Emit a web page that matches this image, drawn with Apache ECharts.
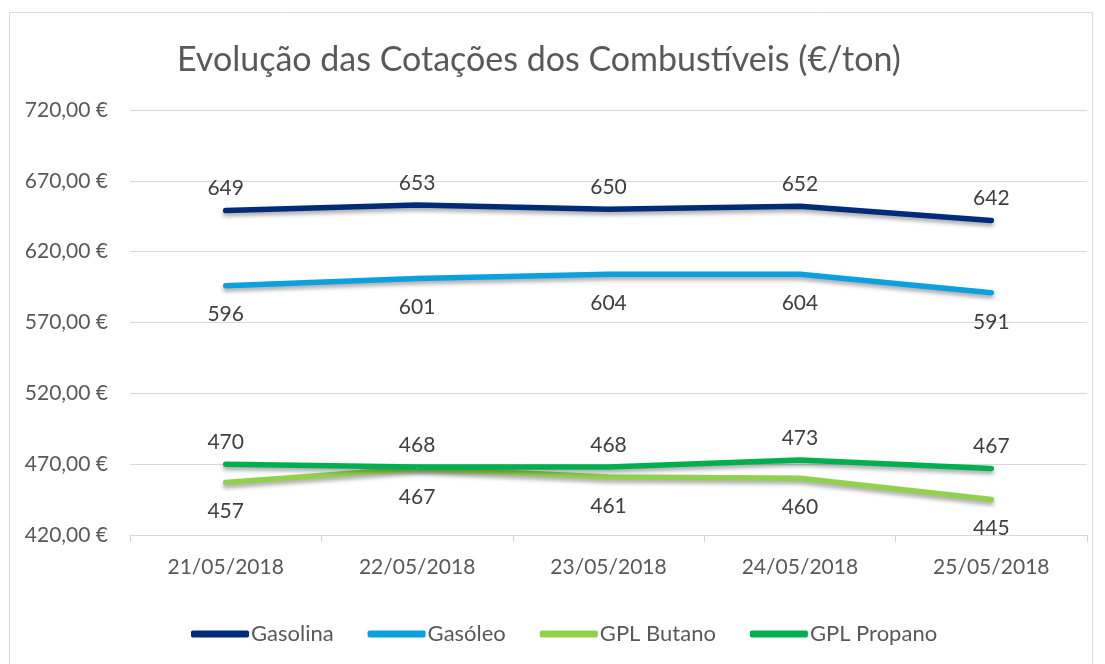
<!DOCTYPE html>
<html>
<head>
<meta charset="utf-8">
<script src="https://cdn.jsdelivr.net/npm/echarts@6/dist/echarts.min.js"></script>
<style>
  html, body { margin: 0; padding: 0; background: #fff; }
  #chart { width: 1105px; height: 664px; }
</style>
</head>
<body>
<div id="chart"></div>
<script>
const categories = ['21/05/2018', '22/05/2018', '23/05/2018', '24/05/2018', '25/05/2018'];
const gasolina = [649, 653, 650, 652, 642];
const gasoleo = [596, 601, 604, 604, 591];
const gplButano = [457, 467, 461, 460, 445];
const gplPropano = [470, 468, 468, 473, 467];

const font = 'Lato, "Open Sans", sans-serif';

function lineSerie(name, data, color, labelPos) {
  return {
    name: name,
    type: 'line',
    data: data,
    symbol: 'circle',
    symbolSize: 1,
    showSymbol: true,
    lineStyle: {
      width: 5.5,
      color: color,
      cap: 'round',
      join: 'round',
      shadowColor: 'rgba(0,0,0,0.35)',
      shadowBlur: 4,
      shadowOffsetY: 3
    },
    itemStyle: { color: color },
    label: {
      show: true,
      position: labelPos,
      distance: labelPos === 'top' ? 11 : 18,
      fontFamily: font,
      fontSize: 21,
      color: '#404040',
      formatter: p => Math.round(p.value)
    },
    z: 3
  };
}

const chart = echarts.init(document.getElementById('chart'));
chart.setOption({
  animation: false,
  backgroundColor: '#fff',
  title: {
    text: 'Evolução das Cotações dos Combustíveis (€/ton)',
    left: 172,
    top: 38,
    textStyle: { fontFamily: font, fontSize: 34, fontWeight: 'normal', color: '#595959' }
  },
  graphic: [{
    type: 'rect',
    shape: { x: 9.5, y: 12.5, width: 1083, height: 700 },
    style: { fill: 'none', stroke: '#d9d9d9', lineWidth: 1 },
    silent: true
  }],
  legend: {
    bottom: 14,
    left: 186,
    itemWidth: 58,
    itemHeight: 7,
    itemGap: 34,
    icon: 'roundRect',
    textStyle: { fontFamily: font, fontSize: 22, color: '#595959', padding: [0, 0, 0, -3] },
    data: ['Gasolina', 'Gasóleo', 'GPL Butano', 'GPL Propano']
  },
  grid: { left: 130, right: 18, top: 110, bottom: 129 },
  xAxis: {
    type: 'category',
    data: categories,
    boundaryGap: true,
    axisLine: { lineStyle: { color: '#d9d9d9', width: 1 } },
    axisTick: { show: true, length: 7, lineStyle: { color: '#d9d9d9' } },
    axisLabel: { fontFamily: font, fontSize: 21, color: '#595959', margin: 22 }
  },
  yAxis: {
    type: 'value',
    min: 420,
    max: 720,
    interval: 50,
    axisLine: { show: false },
    axisTick: { show: false },
    splitLine: { lineStyle: { color: '#d9d9d9', width: 1 } },
    axisLabel: {
      fontFamily: font, fontSize: 21, color: '#595959', margin: 22,
      formatter: v => v.toFixed(2).replace('.', ',') + ' €'
    }
  },
  series: [
    lineSerie('Gasolina', gasolina, '#002B7A', 'top'),
    lineSerie('Gasóleo', gasoleo, '#0BA0DE', 'bottom'),
    lineSerie('GPL Butano', gplButano, '#92D050', 'bottom'),
    lineSerie('GPL Propano', gplPropano, '#00B050', 'top')
  ]
});
</script>
</body>
</html>
